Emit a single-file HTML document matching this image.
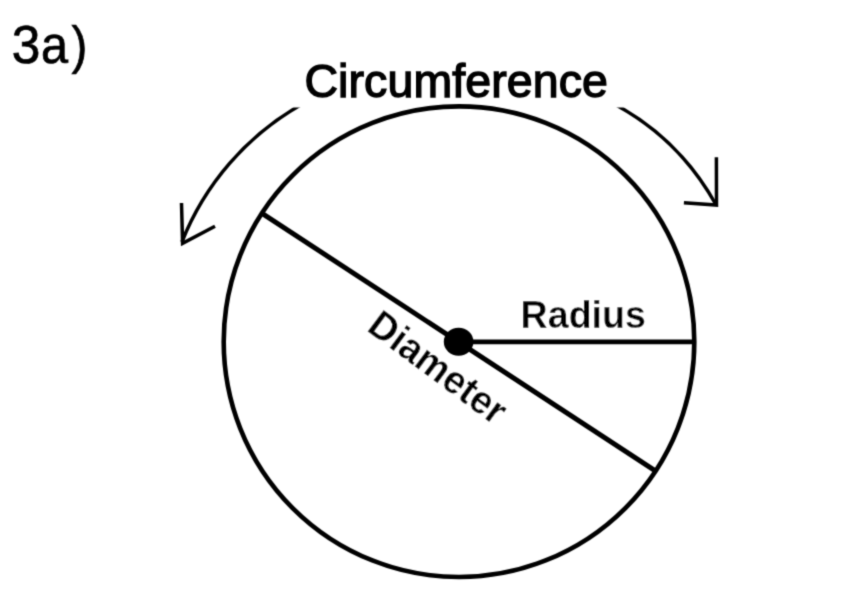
<!DOCTYPE html>
<html><head><meta charset="utf-8">
<style>
html,body{margin:0;padding:0;background:#fff;width:848px;height:614px;overflow:hidden}
svg{display:block}
text{font-family:"Liberation Sans",sans-serif;fill:#000}
.b{font-weight:bold;stroke:#fff;stroke-width:0.3}
</style></head>
<body>
<svg width="848" height="614" viewBox="0 0 848 614">
<defs><filter id="bl" x="0" y="0" width="848" height="614" filterUnits="userSpaceOnUse"><feConvolveMatrix order="3" kernelMatrix="0.0277 0.111 0.0277 0.111 0.445 0.111 0.0277 0.111 0.0277" divisor="1" edgeMode="none"/></filter></defs>
<rect width="848" height="614" fill="#fff"/>
<g filter="url(#bl)">
<text transform="translate(11.74,62.9) scale(0.954,1)" font-size="53.95" stroke="#000" stroke-width="0.7">3</text>
<text transform="translate(40.9,62.8) scale(0.945,1)" font-size="51.5" stroke="#000" stroke-width="0.7">a</text>
<text transform="translate(71.5,62.8) scale(0.91,1)" font-size="52.4" stroke="#000" stroke-width="0.7">)</text>
<text x="304.4" y="97.1" font-size="46.5" stroke="#000" stroke-width="1.4" letter-spacing="0.1">Circumference</text>
<circle cx="459" cy="341.7" r="235.3" fill="none" stroke="#000" stroke-width="4.6"/>
<line x1="263.2" y1="214.1" x2="654.2" y2="470.1" stroke="#000" stroke-width="4.9"/>
<line x1="459" y1="341.9" x2="694" y2="341.9" stroke="#000" stroke-width="4.6"/>
<ellipse cx="458.6" cy="341.75" rx="14.8" ry="14.0" fill="#000"/>
<text class="b" transform="translate(520.6,327.9) scale(1,1.045)" font-size="37.6">Radius</text>
<text class="b" transform="translate(365.6,330.0) rotate(36.6) scale(1,1.045)" font-size="37.6">Diameter</text>
<clipPath id="ac"><rect x="0" y="107.4" width="848" height="507"/></clipPath>
<g fill="none" stroke="#000" stroke-width="3.5">
<path clip-path="url(#ac)" d="M300.56,105 A274.52,274.52 0 0 0 181.9,242"/>
<path d="M181.5,203 L182.6,243.3 L215,226.2"/>
<path clip-path="url(#ac)" d="M616.14,105 A253.61,253.61 0 0 1 715.6,204"/>
<path d="M716.4,157.2 L716.5,205 L683.9,202.7"/>
</g>
</g>
</svg>
</body></html>
